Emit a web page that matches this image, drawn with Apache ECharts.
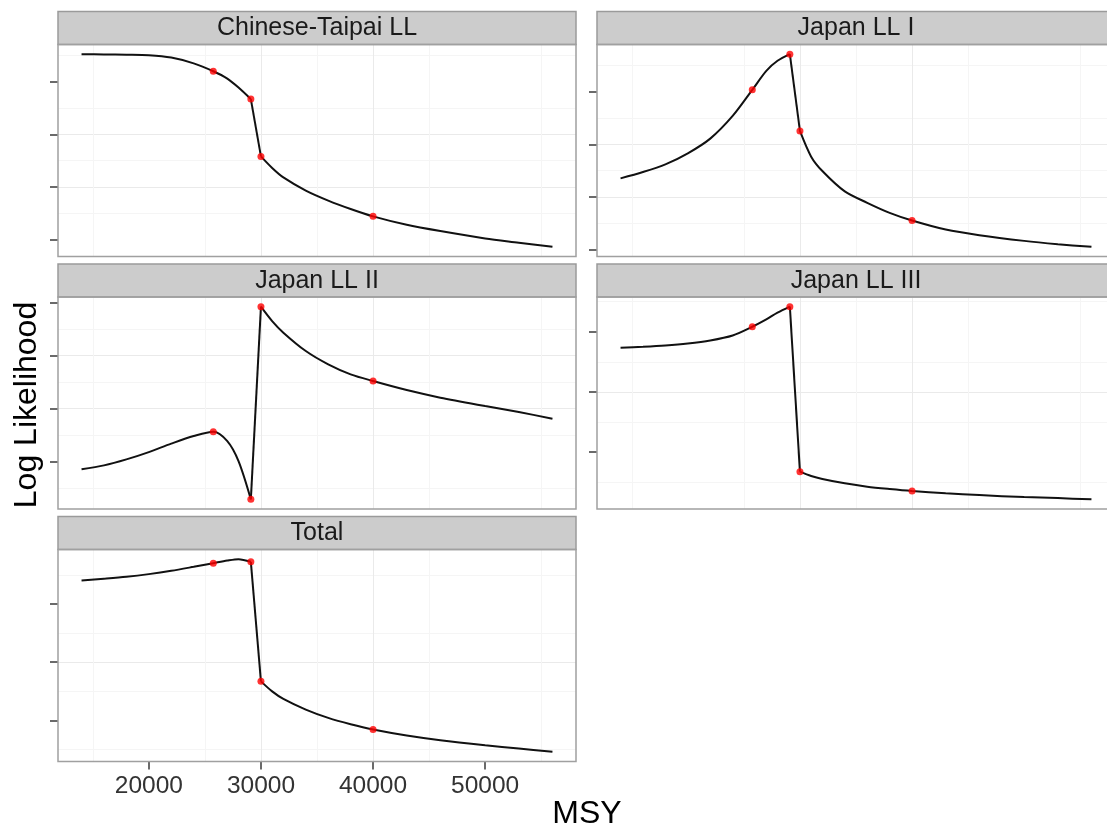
<!DOCTYPE html>
<html><head><meta charset="utf-8">
<script src="https://cdn.jsdelivr.net/npm/echarts@6/dist/echarts.min.js"></script>
<style>html,body{margin:0;padding:0;background:#fff;overflow:hidden;width:1107px;height:832px}#chart{width:1125px;height:832px}</style>
</head><body><div id="chart"></div>
<script>
// ---- data (y in arbitrary log-likelihood units, tick labels hidden) ----
const panelNames = ['Chinese-Taipai LL', 'Japan LL I', 'Japan LL II', 'Japan LL III', 'Total'];
const msy = [14000, 16000, 18000, 20000, 22000, 24000, 25750, 27000, 28000, 29100, 30000,
             31000, 32000, 34000, 36000, 38000, 40000, 43000, 46000, 50000, 53000, 56000];
const llChineseTaipai = [3.525, 3.52, 3.515, 3.505, 3.46, 3.35, 3.20, 3.06, 2.89, 2.67, 1.58,
                         1.36, 1.18, 0.93, 0.74, 0.58, 0.44, 0.28, 0.16, 0.02, -0.06, -0.14];
const llJapanI = [1.354, 1.475, 1.621, 1.831, 2.111, 2.543, 3.039, 3.401, 3.592, 3.719, 2.257,
                  1.768, 1.494, 1.106, 0.890, 0.699, 0.553, 0.381, 0.273, 0.165, 0.102, 0.051];
const llJapanII = [-0.145, -0.070, 0.043, 0.181, 0.340, 0.483, 0.566, 0.389, 0.011, -0.711, 2.925,
                   2.653, 2.434, 2.087, 1.836, 1.647, 1.521, 1.351, 1.208, 1.049, 0.936, 0.811];
const llJapanIII = [1.733, 1.750, 1.772, 1.805, 1.855, 1.938, 2.083, 2.205, 2.317, 2.417, -0.323,
                    -0.395, -0.445, -0.517, -0.573, -0.612, -0.645, -0.683, -0.712, -0.745, -0.762, -0.783];
const llTotal = [2.405, 2.435, 2.469, 2.515, 2.572, 2.641, 2.704, 2.749, 2.773, 2.727, 0.670,
                 0.498, 0.368, 0.184, 0.041, -0.069, -0.160, -0.263, -0.344, -0.430, -0.486, -0.543];
const pointMSY = [25750, 29100, 30000, 40000];
const steepFrom = 29100, steepTo = 30000;   // the near-vertical jump segment (drawn unsmoothed)
const xTicks = [20000, 30000, 40000, 50000];
const yTicksChineseTaipai = [0, 1, 2, 3];
const yTicksJapanI = [0, 1, 2, 3];
const yTicksJapanII = [0, 1, 2, 3];
const yTicksJapanIII = [0, 1, 2];
const yTicksTotal = [0, 1, 2];
const xTitle = 'MSY';
const yTitle = 'Log Likelihood';

// ---- layout ----
const seriesLL = [llChineseTaipai, llJapanI, llJapanII, llJapanIII, llTotal];
const yTicks = [yTicksChineseTaipai, yTicksJapanI, yTicksJapanII, yTicksJapanIII, yTicksTotal];
const colLeft = [58, 597];
const rowTop = [44.5, 297, 549.5];
const panelW = 518, panelH = 212, stripH = 33;
const FONT = '"Liberation Sans", Arial, Helvetica, sans-serif';

const expandMin = v => v.min - (v.max - v.min) * 0.05;
const expandMax = v => v.max + (v.max - v.min) * 0.05;

const grids = [], xAxes = [], yAxes = [], series = [], graphics = [];
const iFrom = msy.indexOf(steepFrom), iTo = msy.indexOf(steepTo);

panelNames.forEach((name, i) => {
  const left = colLeft[i % 2], top = rowTop[Math.floor(i / 2)];
  const isBottom = (i === 4);
  grids.push({ left: left, top: top, width: panelW, height: panelH, show: false, containLabel: false });
  xAxes.push({
    type: 'value', gridIndex: i, min: expandMin, max: expandMax, splitNumber: 4,
    axisLine: { show: false, onZero: false },
    axisTick: { show: isBottom, customValues: xTicks, length: 8, inside: false,
                lineStyle: { color: '#3a3a3a', width: 1.5 } },
    axisLabel: { show: isBottom, customValues: xTicks, formatter: v => String(v),
                 fontSize: 24.5, fontFamily: FONT, color: '#333', margin: 12 },
    splitLine: { show: true, showMinLine: false, showMaxLine: false,
                 lineStyle: { color: '#EAEAEA', width: 1 } },
    minorTick: { show: false, splitNumber: 2 },
    minorSplitLine: { show: true, lineStyle: { color: '#F5F5F5', width: 1 } }
  });
  yAxes.push({
    type: 'value', gridIndex: i, min: expandMin, max: expandMax, splitNumber: 4,
    axisLine: { show: false, onZero: false },
    axisTick: { show: true, customValues: yTicks[i], length: 8, inside: false,
                lineStyle: { color: '#3a3a3a', width: 1.5 } },
    axisLabel: { show: false },
    splitLine: { show: true, showMinLine: false, showMaxLine: false,
                 lineStyle: { color: '#EAEAEA', width: 1 } },
    minorTick: { show: false, splitNumber: 2 },
    minorSplitLine: { show: true, lineStyle: { color: '#F5F5F5', width: 1 } }
  });
  const ll = seriesLL[i];
  const pts = msy.map((x, k) => [x, ll[k]]);
  const lineBase = {
    type: 'line', xAxisIndex: i, yAxisIndex: i, silent: true, showSymbol: false,
    lineStyle: { color: '#111', width: 2 }, z: 3
  };
  // smooth part before the jump, straight jump, smooth part after the jump
  series.push(Object.assign({}, lineBase, { data: pts.slice(0, iFrom + 1), smooth: 0.3 }));
  series.push(Object.assign({}, lineBase, { data: pts.slice(iFrom, iTo + 1), smooth: false }));
  series.push(Object.assign({}, lineBase, { data: pts.slice(iTo), smooth: 0.3 }));
  series.push({
    type: 'scatter', xAxisIndex: i, yAxisIndex: i, silent: true,
    data: pointMSY.map(x => [x, ll[msy.indexOf(x)]]),
    symbol: 'circle', symbolSize: 7,
    itemStyle: { color: '#FF0000' }, z: 4
  });
  // strip
  graphics.push({
    type: 'rect', z: 50,
    shape: { x: left, y: top - stripH, width: panelW, height: stripH },
    style: { fill: '#CCCCCC', stroke: '#9A9A9A', lineWidth: 1.5 }
  });
  graphics.push({
    type: 'text', z: 51, x: left + panelW / 2, y: top - stripH / 2 + 0.5,
    style: { text: name, fill: '#1A1A1A', font: '25px ' + FONT,
             align: 'center', verticalAlign: 'middle',
             textAlign: 'center', textVerticalAlign: 'middle' }
  });
  // panel border
  graphics.push({
    type: 'rect', z: 60,
    shape: { x: left, y: top, width: panelW, height: panelH },
    style: { fill: null, stroke: '#A0A0A0', lineWidth: 1.5 }
  });
});

graphics.push({
  type: 'text', z: 70, x: 587, y: 814,
  style: { text: xTitle, fill: '#000', font: '32px ' + FONT,
           align: 'center', verticalAlign: 'middle',
           textAlign: 'center', textVerticalAlign: 'middle' }
});
graphics.push({
  type: 'text', z: 70, x: 27, y: 405, rotation: Math.PI / 2,
  style: { text: yTitle, fill: '#000', font: '32px ' + FONT,
           align: 'center', verticalAlign: 'middle',
           textAlign: 'center', textVerticalAlign: 'middle' }
});

const chart = echarts.init(document.getElementById('chart'), null, { renderer: 'canvas' });
chart.setOption({
  animation: false,
  backgroundColor: '#FFFFFF',
  grid: grids, xAxis: xAxes, yAxis: yAxes, series: series,
  graphic: { elements: graphics }
});
</script>
</body></html>
